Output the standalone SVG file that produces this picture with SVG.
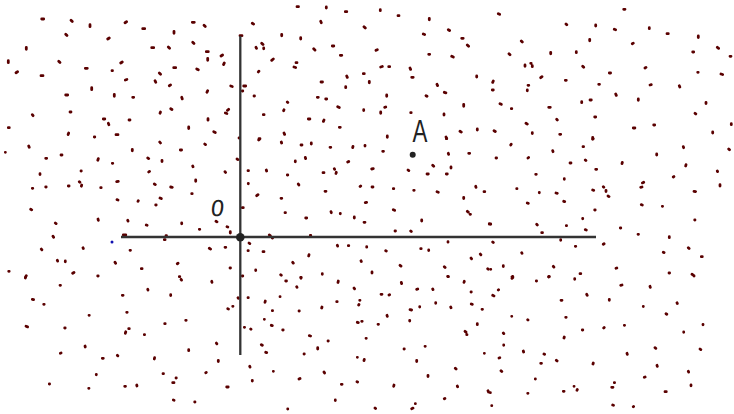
<svg xmlns="http://www.w3.org/2000/svg" width="734" height="414" viewBox="0 0 734 414">
<style>
.dots{fill:none;stroke:#5a0000;stroke-width:2.8;stroke-linecap:round}
.axis{stroke:#333;stroke-width:2.3;fill:none}
.lbl{fill:#222;font-family:"DejaVu Sans","Liberation Sans",sans-serif}
</style>
<rect width="734" height="414" fill="#fff"/>
<g id="dots">
<path class="dots" d="M41.7 19h2M71 20.3l1.3 1.3M90 24.7v2M125 22.7l1.6 -1M142.7 28.7h2M174 31.3v2M192.3 22.3h2M204 25.3l1.3 1.3M240 35.7h2M65.7 34.3l1.3 1.3M107.7 39l1.6 -1M26.3 47.3v2M151.7 47.7h2M168.3 47l1.3 1.3M192.7 42.3l1.3 1.3M206.3 51.7h2M207.7 58.3v2M221 56l1.6 -1M224.3 63l-.8 1.6M8.3 60.7v2M58.7 61.3l1.3 1.3M120.7 63l1.6 -1M16 72.7l1.6 -1M41 75.7h2M85.3 68.3h2M112 70.7h.5M159.3 73l1.3 1.3M173.7 67.7h2M196.7 69l1.6 .8M125.3 80l1.6 -.5M155 80.7l.8 1.6M169.3 85.7l1.3 -.8M91.7 87.7v2M230.7 86l1.6 .5M243.7 86h2M242.3 91h.5M207.7 90.7l-.8 1.6M65.7 95h2M114.3 94.3v2M132.7 97.3h1M181.7 97.3l.6 1.6M170.7 108.7l1.3 .8M228.7 109.3l-1.3 1M225.3 113l1.6 .5M160 113.3l.5 -1.3M32.3 114.7l.8 1M70 112h1M103.3 119h1.5M108.3 123.3l.6 1.4M129 120h1M208 118.7v1.5M8.3 127.7h1M68.7 133l-.6 1.6M94.3 137h.5M116 134.7h2M188.7 127v1.5M213.7 131.7l1.6 .8M239 138h.5"/>
<path class="dots" d="M297 6.7h1.5M326.3 7v1M345.3 11.7h1.5M380.3 9.7v1M398 15.7h1M429.3 18.3v1.5M252.3 23.3l1.3 .8M320.7 21.3l.6 1.4M364 26.7l1.3 1.3M448.3 29.7l1.3 .8M281.7 34.3v1.5M300.7 37.7v1.3M423.3 34l1.3 .5M461.7 38.3h1.5M261.7 43.3l1.3 1.3M256 47.3l.5 1M263.7 48v.8M313.7 48.7l1.3 1.4M332.3 46h1.5M467.3 45l1.3 1.3M376 50.3l1.3 -.6M340.3 55.3h1.5M428.7 54.3h1M451.7 56.3l1.6 .8M271.7 60.3l1.6 -1.3M296 62.7h1M294 67l1.6 .5M380.7 67l1.6 -.5M388.7 66.7h1M410 68l.6 1.4M258.3 72l.6 -.8M346.7 76l.6 1.4M363.3 73.7h1M411.7 77.3h1.5M476.7 76v1M321 82h1.5M369.3 81.3v1.5M345.7 86.7v1M437 84.3l.6 1.3M444.3 92.3l1.6 .5M254 96h.5M317.3 97.3h1M325.7 99h1M287.3 102l.5 .5M386.7 95v1.3M426 95.7l1 .6M337.7 106.7l1.6 .8M384.7 107.3l1 -.3M463.7 104.3v2M284 109.7l-.4 1M363.7 109.7v.8M380.7 112v1.3M410.7 112.7h.5M444 114v1M263.3 114.7h.8M308.3 119h1.6M324 120l-.6 1.4M339.3 127.3h1M284 133l.6 1.4M387.3 136v1.3M460 131.3l1.3 .8M477.3 129v1M446 137l.6 1.3M259 138.7h1"/>
<path class="dots" d="M498.3 13.7l1.3 .6M623.7 9.3h1.3M566 24l.8 .8M595.7 25v1M614.3 29.3l1.3 .5M649.3 27.7v1M667 33.7h1.3M698.3 36v1.5M521.3 41l1 1M589.7 39.3v1.5M632.3 43.7l1 -.6M717.3 47.3l1.3 1M509 53.7l1 1M550.7 52.3v1.5M576.3 51.7v1M692.7 52h1M730 56.3h1M525 65v1.3M530.7 63.3h.5M532.3 65.7v1M582.7 66.3l1 1M645 68l1 -.6M609.3 73h1.3M697.7 72.3h.5M721 74l1.6 .5M540.7 77.7l1.3 -1M493.3 81l-.6 1.4M492.3 90h1M528 85.3h.8M527.3 90v.8M565.3 80.3h1M598.7 84.3h.8M650 85l1.3 -.3M679.3 85.7l.5 1.3M615.7 94l.6 1.4M638.3 99v1.3M500 103.7l1.3 .6M511.3 108.7h.5M548.7 107.3h1.6M581.7 101.7v1M590 100h1.3M706 102.3v1.3M695 113.3l.8 .6M556.7 119.3l.6 .6M594.7 117h1M526 123.3l1.3 .8M494 130.7l1.3 .8M532.3 132.7v.8M559.7 134.3h1M633.3 128h1.6M653.7 125h1M712.7 132v1M731.3 123.7v1M592.7 137.3v1.3"/>
<path class="dots" d="M28.7 146l.5 1.3M5.3 152.3h.1M61 155h1M45.7 158.3h1M98.3 158.7l-.5 1.5M112.3 163.3h.5M132.3 149.3v1.5M147.7 158l1 .6M159.7 142l.8 1M162 160.3v1.3M180.3 150h1.3M204.7 144l.8 .6M192.7 166l.3 .8M237 159l1 .6M40 173.7v.8M81 171h.3M148.7 172l.8 -.6M225 171.7l.6 .8M32.3 188.3h.5M45.7 187h.5M68.3 186h.8M79.3 181.7l.6 .6M81.7 185l-.3 1.2M100.7 187.7h.5M116.7 181.7l1.6 -.3M154.3 184l1 .6M170.7 187l1.6 .3M195.7 180v1.3M191.7 193.7h.5M117 199.7l1 .3M138 201.3l.3 -.6M160 198l1.3 .6M155.7 205h.5M30.7 209.3l1 .6M242.3 207.7h1M98 219l.3 1.3M55.3 223l.8 .6M127.7 220.3l.3 .8M146.3 225l.8 .3M181.7 223v.8M199.3 229.3h.5M216 221.3l1 .6M227 226.7l.8 .3M230.3 231.7v1.3M53 236.3l.6 1M123.3 235h2.5M166 235.7h.5M164.3 239.7h.8M41.3 249l.6 .8M83 247.7l.3 .8M130 250.3h.5M209.3 248.3l1.3 .8M225 247.3h.8M57.3 260.3l.3 .8M65.3 261v.8M115 262.3l.6 1M177.3 263.7l.8 -.5M8.7 271.3h.5M26.3 275.7l-.5 1M72.7 273.3l1.3 -.8M97.7 276h.5M141.3 268.7h.8M179.3 276.7h.5M230 268h.5M242.3 276h.5"/>
<path class="dots" d="M258.7 140l.6 -.6M281.3 142l.3 1M301 145h1M311.3 143v1M330 147.3h.8M353 146.3l-.3 1.3M365 145.3v.8M382.7 151.3h.8M446.3 138.7h.5M448.3 153.3l.3 1M468.7 153.3h1M295.3 161v.8M305.3 157.3l.3 1.3M347.7 162l1 -.5M248 170.7h.5M266.3 170l.3 1M287.3 175h.5M323 172.7h1M334.3 168.7l.3 .6M336.3 172.3l-.3 1.2M371.7 169l1.6 -.3M408 170l.8 .6M432.7 165.3l1 1M427 174h1.3M446.3 174h1M451 167v1M248.3 183.3v.5M298.3 184l.6 1M325 191.3h1M360.7 186l-.6 .6M372 187h1M393.3 188.7h.5M413.7 190.3h.5M437 191.7l1.3 .5M475.7 186.3l.3 1M484 191.7h.8M256.7 195.7l1.3 -1M281 198.3h.8M463.7 197.3v1.3M365.3 202.7l1.3 -.3M285 212.7h.5M331 211.7l.3 1M340.3 213.3v.5M393.3 209.7l1.3 .6M467.3 211.3l1 .8M470 214.3h.5M305.7 218h1M354.3 217v1M364 222.3h1M421.7 220v1M489.3 223.7v.5M395 231h.5M410.7 231l.6 .6M269.3 235l1 .6M272.3 238h.3M310.3 235.3h.5M249 243l.8 .6M248 250.7h.3M263 251.7h1M337.3 245.3l.3 .8M348.3 245.7h.5M366.7 246.7v.5M385.7 250.7l.6 .3M420.7 248.7h.5M428.7 250v.5M448 241.7v.5M308.7 256l.3 -1.3M292.7 262.3l.6 .8M361 260.7l.3 .8M400 265.3l1 .8M471 258l.6 .8M480.3 254l.6 .8M444.3 266.7l.8 .8M487.7 268.7l.6 .6M255.7 270v.6M280.7 274.7l.6 .6M300.7 277.3h.5M322.3 273.7v.6M372 272v1M448 276.7h.5"/>
<path class="dots" d="M510.7 145l.5 -.8M552.7 150.7l.3 1M583 146.7h.6M592.7 139.3l.5 -.5M683.3 146.7l.3 1M656.7 154v1M728.7 149l.8 .8M496 158h.6M528 158l.6 -.5M570 163h1M585.3 160l.6 .6M622 163.7l.3 -1.3M686 164.7l-.3 1.3M595.7 169.3h1M717.3 171l.3 .6M535.7 174.3h.6M564.3 178.7v.6M643.7 182.3l-1.3 .6M673.3 177l.6 -.4M720 184.7v1.3M516.7 188.7h.3M539.3 192.3v.5M556 193l1.3 .3M592.7 190l1 .3M603.3 186.7l.5 .5M606 190.3v1.3M608 196l1 .6M640.7 187.3l1.3 -.3M694 191.3l1.6 .3M527.3 203l1 .3M563.7 201.3l1 .3M641.3 204.7l1 .3M662.3 206.3h.3M594.7 210h.5M582.7 218.3v.5M694.7 220h.3M490.7 224v.3M536.7 224.3l.6 .6M566.3 225.7h.3M585.3 229.7l1 .3M620.3 228h.5M541.7 232.7h.8M638 234.3h.5M669.3 236.7v1M492.7 242l.6 .6M560.7 239.7v.6M603.3 244.3l.8 -.5M575.3 246.3h.5M688.3 247.7l.8 .8M521.7 252.7l.3 .6M663.3 252.3l.8 .3M701.3 256.7h1M503.3 265.7v.8M553.3 266.3l.6 .8M616 268.3l.8 -.3M490.7 269.3h.1M512 276.7l.8 -.3M548.7 276.7h.6M580 273.7h.8M669 273h.6M692 274.3l1 .6"/>
<path class="dots" d="M25.3 278l.3 -.8M60 285.3h.5M181 279.3l.6 .8M211.7 281.3l.3 1M32.3 299.3l1.3 .3M43.7 304.3h.5M122.3 295.3h.8M147.7 289.3l.3 .8M170.7 294.7v.8M238 297.7l.3 .5M227.7 308.7l.8 .3M232.7 306.3h.3M89 315.3h.3M126.7 312.3h.5M185.7 320.3h.5M164.7 323.7h.5M26 326.3l1.6 .6M64.7 328h.5M125.3 333.3l.5 -1.5M128.7 328.7h.6M144.3 334.7h.3M244.3 327.3h.3M85 346l.3 1M188.7 349.7v1M216.3 343l.6 .8M60.3 353.3l.8 -.3M102.3 358.3h1M117.3 355.3l.6 .5M154.3 359l.3 -1.3M218.3 360.3v1.3M96.3 374.3v.5M163 373.7h.5M176 378h.3M172.7 382.7h1.3M205.7 372.7l.6 -.3M49.3 384h.3M88.7 388.3h.3M124.7 386.3h.8M136.7 385l.3 1M226.7 387h1.5M173.3 400l.8 .3M194.7 402h.3"/>
<path class="dots" d="M285.7 281h.8M301 278v.3M338.3 281l-.3 1.5M296.7 286.7l.3 .6M354 288l.6 .8M401.3 282.3l.3 1.3M416.7 289.3l1 -.3M432.7 289l.3 .6M447.7 276.3h.1M464.3 281.3l-.3 1M471 292h.3M248 297.7h.3M265 302.3l.3 -1.3M280 296.7h.1M336.7 301.7h.5M359.7 300.3h.3M358.7 305l.3 -.6M381 294.3h1M389 295l.6 -.3M321.7 308l.3 -1M299 311h.3M272.3 310.7h.3M410 309.7l1.6 .3M419.7 306.7v.3M435.7 302.7v.6M450.7 307l.3 .8M471.3 304l1 .3M482 309.3h.5M264.3 319.3h.1M271.3 325.3l1 .3M250.7 329l.3 .3M282.7 330h.5M357.3 322.3l1 .3M361.7 321.3h.5M378 324.3h.5M387 315.3l.3 1M409.7 320.3v.8M477.3 323.7v1M465 331.3l1 .8M466.7 334.7h.3M309.3 335.7l1.3 .3M328 341h.3M366 338.3h.3M261.3 344.7l1 .6M265.7 352.3l1 .3M317.7 347.7v1.3M304 354h.3M404 349h.3M425 346.3h.3M484.3 353.3h.1M357.3 357.3h.1M364.3 359.3l-.3 1.3M416.7 360.3v1.3M249.7 366.3l.3 .8M273.3 371.3h.1M324 372l.6 1M299 379l1 -.5M252.3 380.3v.8M341.3 384.3h.8M357 381.7l.6 .3M394 385l-.3 1.3M428 375.3v1.3M455.3 368.3l.8 .8M457.3 386l.3 .8M488 390.7l.5 1.3M335.3 400v.5M444.3 398.7l.6 -.3M287.7 409h.1M375 408l.6 .6M411.7 408.7l1.3 -.6M415.3 403.7h.1"/>
<path class="dots" d="M512 278.3l.8 -.6M536.3 281h.3M548.7 277l.3 -.5M574.7 278.7v.6M620.7 285.3l1.3 -.3M650 286.3l.3 1M694 276h.1M492.7 295.3l1.3 .6M498.3 290l.3 -.3M561 300.3h1M586.7 294.3l.5 1M609.3 299.3v1M643.3 306.3v.3M677 302.7l.3 .8M666 313.7l.8 .5M511.7 316.3h.1M527.7 319.7l.3 .3M565.7 317.3h.5M582.3 330h.5M603.7 328l.5 -.5M624.3 325.3h.3M683.7 332v.3M703 324.3v.5M503.3 333l.5 .6M564 338l.3 -1M503.7 345v.3M523.3 351l.3 1M544 354l.6 .3M627.3 354.3l-.3 -1M655 347.7l.8 .6M700 349l.8 .6M499 358l.8 -.3M540.7 363.3h.8M556.3 360.3l.8 .6M593 364l.3 -1M657 365.3l.3 1M501 370.7l.8 .8M535.3 379h.1M644.3 377.3l.8 -.3M688.3 371.3l.3 .8M614.3 382.7h.3M611.7 387.3h1.3M574 386.3h.1M577 390.3l.3 -.8M563.3 391.3h.8M527.7 393.3h.3M665 391.7h1.3M691 385v.8M490.3 392.7h.1M491.7 405.7h.1M612.7 405l.8 .3M633.3 406.7l.3 -.3"/>
<circle cx="112" cy="242" r="1.5" fill="#1010b0"/>
</g>
<g id="axes">
<line class="axis" x1="121" y1="237" x2="596" y2="237"/>
<line class="axis" x1="240.3" y1="36" x2="240.3" y2="355"/>
</g>
<g id="origin">
<circle cx="240.3" cy="237.3" r="4.3" fill="#222"/>
<text class="lbl" x="210.5" y="216" font-size="22" transform="skewX(-6)" style="transform-origin:216px 208px">0</text>
</g>
<g id="point-A">
<circle cx="412.7" cy="154.7" r="3" fill="#222"/>
<text class="lbl" transform="translate(412.5 141.7) scale(0.72 1)" font-size="31" style="font-family:'Liberation Sans',sans-serif">A</text>
</g>
</svg>
